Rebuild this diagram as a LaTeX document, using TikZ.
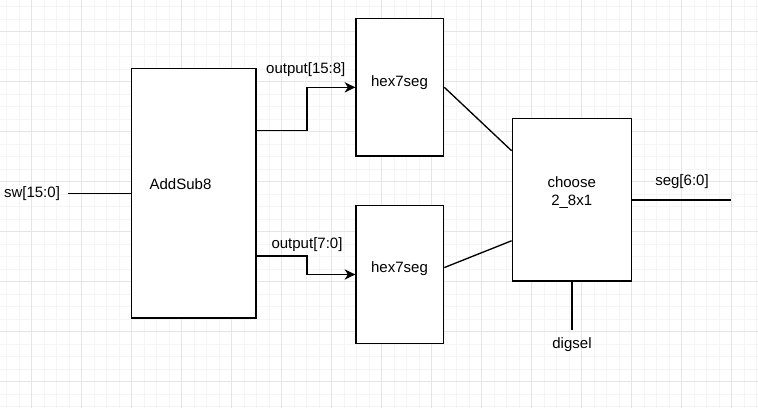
\documentclass[tikz,border=0pt]{standalone}
\usepackage{fontspec}
\setmainfont{Liberation Sans}
\usetikzlibrary{calc,arrows.meta}
\definecolor{gridminor}{RGB}{245,245,245}
\definecolor{gridmajor}{RGB}{229,229,229}
\def\px{0.75pt}

\begin{document}
\begin{tikzpicture}[x=0.75pt, y=-0.75pt,
		blk/.style={draw, fill=white, line width=1pt, inner sep=0pt},
		lbl/.style={inner sep=0pt, text height=8pt, text depth=2.3pt, font=\fontsize{11.25}{13.7}\selectfont},
		wire/.style={line width=1pt},
		arr/.style={line width=1pt, -{Stealth[length=8pt, width=7.7pt, inset=2.4pt]}}]
			%%%%% START %%%%%
			
			\useasboundingbox (0,0) rectangle (758,408);
			
			% grid
			\foreach \x in {6.5,19,...,758} \draw[gridminor, line width=0.75pt] (\x,0) -- (\x,408);
			\foreach \y in {6.5,19,...,408} \draw[gridminor, line width=0.75pt] (0,\y) -- (758,\y);
			\foreach \x in {31.5,81.5,...,758} \draw[gridmajor, line width=0.75pt] (\x,0) -- (\x,408);
			\foreach \y in {31.5,81.5,...,408} \draw[gridmajor, line width=0.75pt] (0,\y) -- (758,\y);
			
			% blocks
			\node[blk, minimum width={124.5*\px}, minimum height={249.5*\px}] (addsub) at (193.75, 193.4) {};
			\node[blk, minimum width={87.7*\px}, minimum height={137.3*\px}] (hexhi) at (399.85, 87.35) {};
			\node[blk, minimum width={87.7*\px}, minimum height={137.6*\px}] (hexlo) at (399.85, 274.5) {};
			\node[blk, minimum width={119.4*\px}, minimum height={162.3*\px}] (choose) at (572, 199.85) {};
			
			\node[lbl] (addsubL) at (180.5, 186) {AddSub8};
			\node[lbl] (hexhiL) at (399.5, 82.3) {hex7seg};
			\node[lbl] (hexloL) at (399.5, 269) {hex7seg};
			\node[lbl, align=center, text height=, text depth=] (chooseL) at (571.7, 192.3) {choose\\2\_8x1};
			
			% signals
			\coordinate (swend) at (68, 193.4);
			\coordinate (segend) at (731.3, 199.85);
			\coordinate (digend) at (572, 330.3);
			
			\node[lbl] (swL) at (32, 193.3) {sw[15:0]};
			\node[lbl] (segL) at (682, 182) {seg[6:0]};
			\node[lbl] (digL) at (572, 344.3) {digsel};
			\node[lbl] (outhiL) at (305.8, 69.3) {output[15:8]};
			\node[lbl] (outloL) at (307, 244.3) {output[7:0]};
			
			\draw[wire] (swend) -- (addsub.west);
			\draw[arr] ($(addsub.north east)!0.25!(addsub.south east)$) -- ++(50.3,0) |- (hexhi.west);
			\draw[arr] ($(addsub.north east)!0.75!(addsub.south east)$) -- ++(50.3,0) |- (hexlo.west);
			\draw[wire] (hexhi.east) -- ($(choose.north west)!0.2!(choose.south west)$);
			\draw[wire] ($(hexlo.north east)!0.45!(hexlo.south east)$) -- ($(choose.north west)!0.75!(choose.south west)$);
			\draw[wire] (choose.east) -- (segend);
			\draw[wire] (choose.south) -- (digend);
			
			%%%%% END %%%%%
		\end{tikzpicture}
\end{document}
